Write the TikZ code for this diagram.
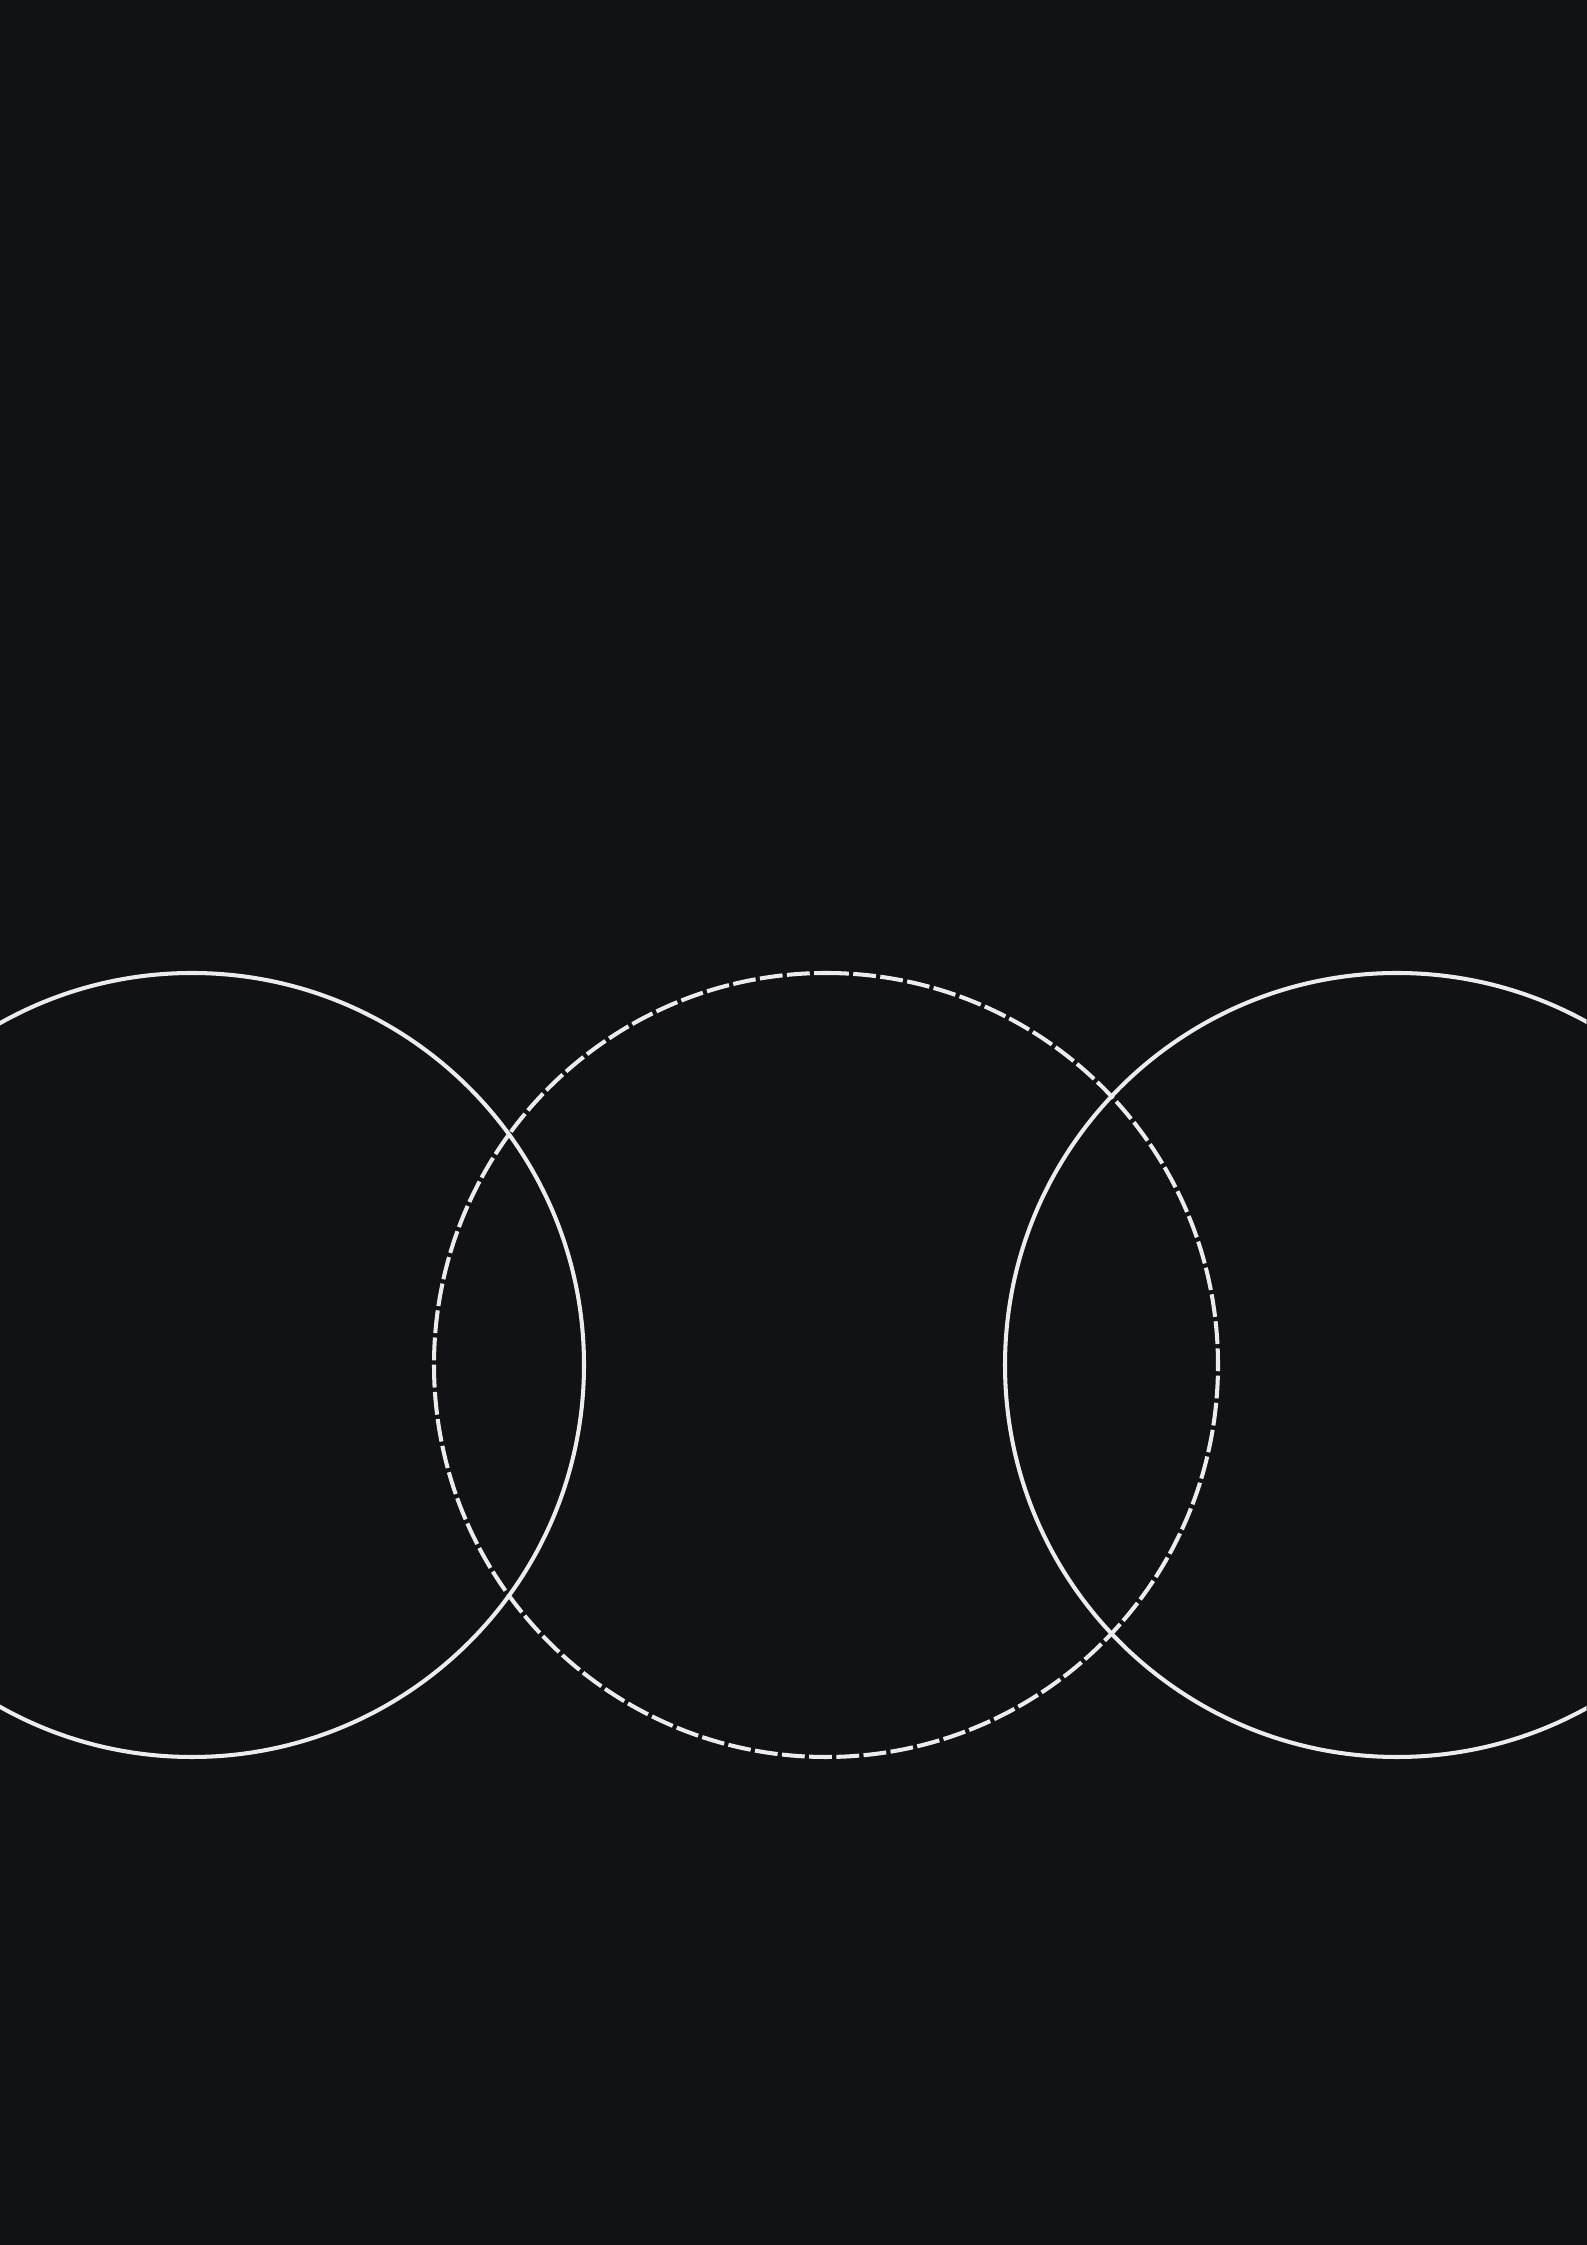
\documentclass[tikz,border=0pt]{standalone}
\usepackage{tikz}
\usetikzlibrary{calc,positioning}

\definecolor{bgdark}{RGB}{17,18,22}
\definecolor{ringwhite}{RGB}{236,236,236}

\begin{document}
\begin{tikzpicture}[
    ring/.style={draw=ringwhite, line width=1.15pt},
    dashring/.style={ring, dash pattern=on 6.5pt off 1.25pt}
  ]

    \useasboundingbox (0,0) rectangle (15.865,22.45);
    \fill[bgdark] (-0.2,-0.2) rectangle (16.07,22.65);

    \coordinate (left) at (1.92,8.80);
    \coordinate (mid) at (8.26,8.80);
    \coordinate (right) at (13.97,8.80);

    \begin{scope}
        \clip (0,0) rectangle (15.865,22.45);
        \draw[ring] ($(left)+(0,3.92)$) arc (90:-270:3.92);
        \draw[dashring] ($(mid)+(0,3.92)$) arc (90:-270:3.92);
        \draw[ring] ($(right)+(0,3.92)$) arc (90:-270:3.92);
    \end{scope}

\end{tikzpicture}
\end{document}
